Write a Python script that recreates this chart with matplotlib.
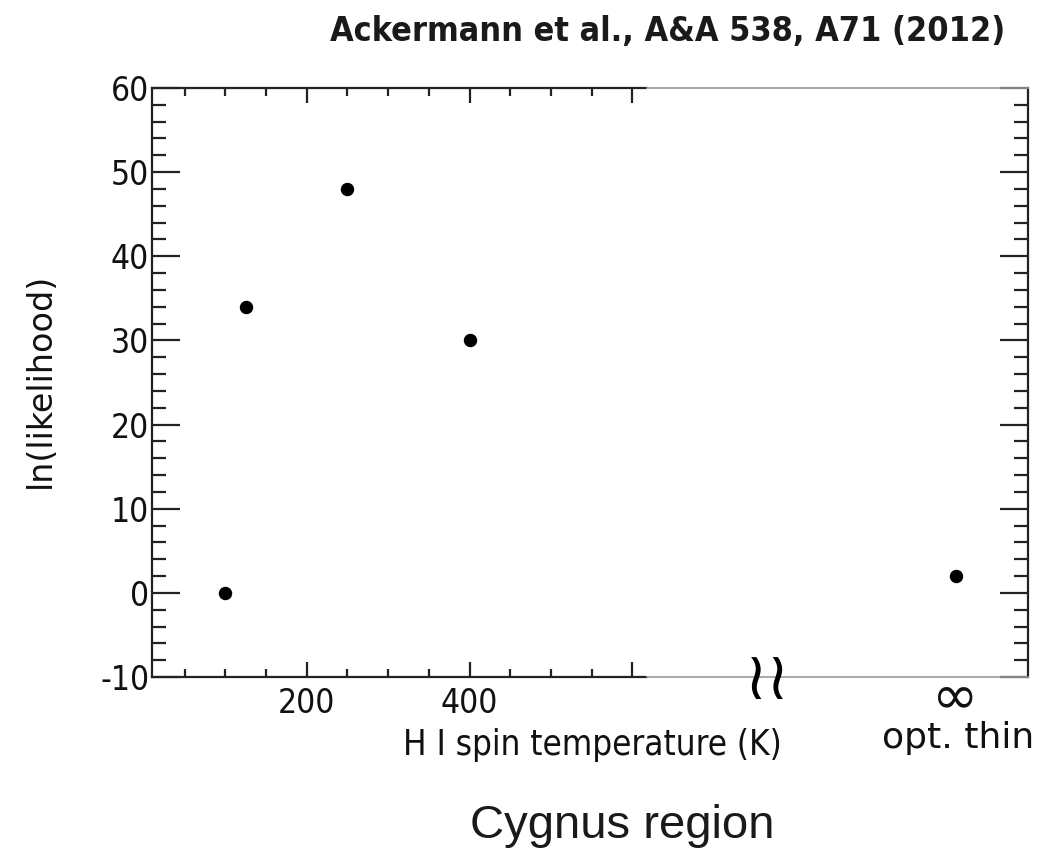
import matplotlib
matplotlib.use("Agg")
import matplotlib.pyplot as plt
from matplotlib.ticker import MultipleLocator, FixedLocator

plt.rcParams["axes.unicode_minus"] = False

# Data
spin_temp = [100, 125, 250, 400]          # K
lnL_finite = [0, 34, 48, 30]
lnL_optthin = [2]
opt_thin_label = "opt. thin"
title_text = "Ackermann et al., A&A 538, A71 (2012)"
region_text = "Cygnus region"
xlabel_text = "H I spin temperature (K)"
ylabel_text = "ln(likelihood)"
major_xticks = [200, 400, 600]
major_xlabels = ["200", "400", ""]

W, H = 1058, 849
fig = plt.figure(figsize=(W / 100, H / 100), dpi=100)

left_px, split_px, right_px = 152, 647, 1028
top_px, bot_px = 88, 677
fb = (H - bot_px) / H
fh = (bot_px - top_px) / H
ax1 = fig.add_axes([left_px / W, fb, (split_px - left_px) / W, fh])
ax2 = fig.add_axes([split_px / W, fb, (right_px - split_px) / W, fh])

# Left panel
ax1.scatter(spin_temp, lnL_finite, s=75, color="black", zorder=3, clip_on=False)
ax1.set_xlim(10, 618)
ax1.set_ylim(-10, 60)
ax1.spines["right"].set_visible(False)
for s in ["left", "top", "bottom"]:
    ax1.spines[s].set_linewidth(1.6)
    ax1.spines[s].set_color("#222222")
ax1.xaxis.set_major_locator(FixedLocator(major_xticks))
ax1.xaxis.set_minor_locator(MultipleLocator(50))
ax1.set_xticklabels(major_xlabels)
ax1.yaxis.set_major_locator(MultipleLocator(10))
ax1.yaxis.set_minor_locator(MultipleLocator(2))
ax1.tick_params(axis="x", which="both", direction="in", top=True, bottom=True,
                width=1.6, color="#222222", pad=7)
ax1.tick_params(axis="x", which="major", length=11)
ax1.tick_params(axis="x", which="minor", length=6)
ax1.tick_params(axis="y", which="both", direction="in", left=True, right=False,
                width=1.6, color="#222222", pad=2)
ax1.tick_params(axis="y", which="major", length=20)
ax1.tick_params(axis="y", which="minor", length=10)
for lab in ax1.get_xticklabels() + ax1.get_yticklabels():
    lab.set_fontfamily("DejaVu Sans")
    lab.set_fontstretch("condensed")
    lab.set_fontsize(24)
    lab.set_color("#111111")

# Right panel (optically thin)
opt_x = 0.81
ax2.scatter([opt_x], lnL_optthin, s=75, color="black", zorder=3, clip_on=False)
ax2.set_xlim(0, 1)
ax2.set_ylim(-10, 60)
ax2.spines["left"].set_visible(False)
for s in ["top", "bottom"]:
    ax2.spines[s].set_linewidth(1.2)
    ax2.spines[s].set_color("#999999")
ax2.spines["right"].set_linewidth(1.6)
ax2.spines["right"].set_color("#222222")
ax2.set_xticks([opt_x])
ax2.set_xticklabels(["∞"], fontsize=40, family="DejaVu Sans", color="#111111")
ax2.tick_params(axis="x", length=0, pad=-4)
ax2.yaxis.set_major_locator(MultipleLocator(10))
ax2.yaxis.set_minor_locator(MultipleLocator(2))
ax2.tick_params(axis="y", which="both", direction="in", left=False, right=True,
                labelleft=False, labelright=False, width=1.6, color="#222222")
ax2.tick_params(axis="y", which="major", length=20)
ax2.tick_params(axis="y", which="minor", length=10)

# axis break symbol
ax2.text((767 - split_px) / (right_px - split_px), -0.005, "≀≀", transform=ax2.transAxes,
         ha="center", va="center", fontsize=48, family="DejaVu Sans",
         stretch="condensed", color="black")

# labels
fig.text(958 / W, 1 - 738 / H, opt_thin_label,
         ha="center", va="center", fontsize=26, family="DejaVu Sans", color="#111111")
fig.text(592 / W, 1 - 745 / H, xlabel_text, ha="center", va="center",
         fontsize=25, family="DejaVu Sans", stretch="condensed", color="#111111")
fig.text(40 / W, 1 - 380 / H, ylabel_text, ha="center", va="center", rotation=90,
         fontsize=24, family="DejaVu Sans", color="#111111")
fig.text(668 / W, 1 - 31 / H, title_text, ha="center", va="center",
         fontsize=24.5, fontweight="bold", family="DejaVu Sans", stretch="condensed",
         color="#1a1a1a")
fig.text(622 / W, 1 - 826 / H, region_text, ha="center", va="center",
         fontsize=34, family="Liberation Sans", color="#1a1a1a")

fig.savefig("out.png", dpi=100)
